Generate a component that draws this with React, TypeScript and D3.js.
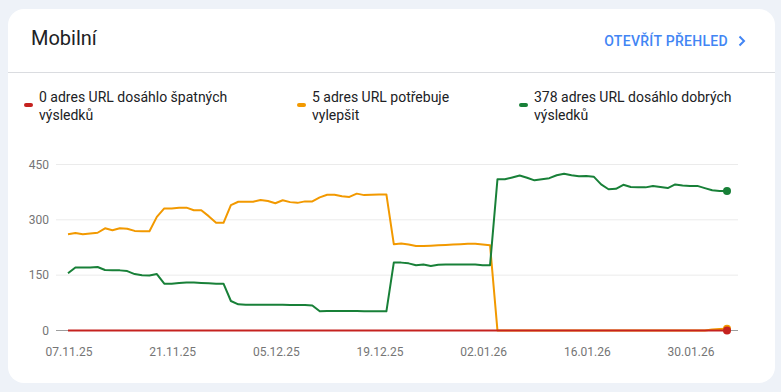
import React, { useEffect, useRef } from 'react';
import * as d3 from 'd3';

// first day of the series (07.11.25), one value per day
const startDate = new Date(2025, 10, 7);

const seriesNames = [
  ['0 adres URL dosáhlo špatných', 'výsledků'],
  ['5 adres URL potřebuje', 'vylepšit'],
  ['378 adres URL dosáhlo dobrých', 'výsledků'],
];

const poor = [
  0, 0, 0, 0, 0, 0, 0, 0, 0, 0,
  0, 0, 0, 0, 0, 0, 0, 0, 0, 0,
  0, 0, 0, 0, 0, 0, 0, 0, 0, 0,
  0, 0, 0, 0, 0, 0, 0, 0, 0, 0,
  0, 0, 0, 0, 0, 0, 0, 0, 0, 0,
  0, 0, 0, 0, 0, 0, 0, 0, 0, 0,
  0, 0, 0, 0, 0, 0, 0, 0, 0, 0,
  0, 0, 0, 0, 0, 0, 0, 0, 0, 0,
  0, 0, 0, 0, 0, 0, 0, 0, 0, 0,
];

const needsImprovement = [
  261, 264, 261, 263, 265, 277, 272, 277, 276, 270,
  269, 269, 308, 331, 331, 333, 333, 326, 326, 310,
  292, 292, 340, 349, 349, 349, 354, 351, 345, 353,
  348, 346, 350, 350, 361, 368, 368, 364, 362, 371,
  367, 368, 369, 369, 234, 236, 233, 229, 229, 230,
  231, 232, 233, 234, 235, 235, 233, 231, 0, 0,
  0, 0, 0, 0, 0, 0, 0, 0, 0, 0,
  0, 0, 0, 0, 0, 0, 0, 0, 0, 0,
  0, 0, 0, 0, 0, 0, 0, 3, 4, 5,
];

const good = [
  155, 171, 171, 171, 172, 164, 163, 163, 161, 153,
  150, 149, 153, 127, 127, 129, 130, 130, 129, 128,
  127, 127, 80, 71, 70, 70, 70, 70, 70, 70,
  69, 69, 69, 68, 52, 53, 53, 53, 53, 53,
  52, 52, 52, 52, 184, 184, 182, 177, 179, 175,
  178, 179, 179, 179, 179, 179, 177, 177, 410, 410,
  415, 420, 414, 407, 410, 413, 421, 425, 421, 418,
  419, 417, 396, 383, 384, 395, 389, 388, 388, 392,
  389, 386, 396, 393, 392, 392, 386, 380, 378, 378,
];

const yTicks = [0, 150, 300, 450];
const xTickLabels = ['07.11.25', '21.11.25', '05.12.25', '19.12.25', '02.01.26', '16.01.26', '30.01.26'];

const colors = ['#c5221f', '#f29900', '#188038'];

const W = 781;
const H = 392;
const FONT = 'Roboto, "Noto Sans", sans-serif';

export default function App() {
  const ref = useRef<SVGSVGElement | null>(null);

  useEffect(() => {
    const svg = d3.select(ref.current);
    svg.selectAll('*').remove();

    // background + card
    svg.append('rect').attr('width', W).attr('height', H).attr('fill', '#eef2f8');
    svg.append('rect')
      .attr('x', 8).attr('y', 9).attr('width', 767).attr('height', 374)
      .attr('rx', 16).attr('fill', '#fff');

    // header
    svg.append('text')
      .attr('x', 31).attr('y', 45)
      .attr('font-family', FONT).attr('font-size', 20)
      .attr('fill', '#202124')
      .text('Mobilní');
    svg.append('text')
      .attr('x', 728).attr('y', 46)
      .attr('text-anchor', 'end')
      .attr('font-family', FONT).attr('font-size', 14).attr('font-weight', 500)
      .attr('letter-spacing', 0.3)
      .attr('fill', '#4285f4')
      .text('OTEVŘÍT PŘEHLED');
    svg.append('path')
      .attr('d', 'M739.5,36.5 L744,41 L739.5,45.5')
      .attr('fill', 'none').attr('stroke', '#4285f4').attr('stroke-width', 2);
    svg.append('line')
      .attr('x1', 8).attr('x2', 775).attr('y1', 72.5).attr('y2', 72.5)
      .attr('stroke', '#dadce0');

    // legend
    const legendX = [24, 297, 519];
    const legend = svg.append('g').attr('font-family', FONT).attr('font-size', 14).attr('fill', '#202124');
    seriesNames.forEach((lines, i) => {
      legend.append('rect')
        .attr('x', legendX[i]).attr('y', 103).attr('width', 9).attr('height', 4)
        .attr('rx', 2).attr('fill', colors[i]);
      const t = legend.append('text').attr('x', legendX[i] + 15).attr('y', 101.5);
      lines.forEach((l, j) => {
        t.append('tspan').attr('x', legendX[i] + 15).attr('dy', j === 0 ? 0 : 18).text(l);
      });
    });

    // scales
    const dates = good.map((_, i) => d3.timeDay.offset(startDate, i));
    const x = d3.scaleTime()
      .domain([dates[0], dates[dates.length - 1]])
      .range([68, 727]);
    const y = d3.scaleLinear().domain([0, 450]).range([330.5, 164.5]);

    // grid + y labels
    const grid = svg.append('g');
    yTicks.forEach(v => {
      grid.append('line')
        .attr('x1', 56).attr('x2', 738)
        .attr('y1', y(v)).attr('y2', y(v))
        .attr('stroke', v === 0 ? '#9e9e9e' : '#ebebeb')
        .attr('stroke-width', 1);
      grid.append('text')
        .attr('x', 49).attr('y', y(v)).attr('dy', '0.35em')
        .attr('text-anchor', 'end')
        .attr('font-family', FONT).attr('font-size', 12).attr('fill', '#757575')
        .text(v);
    });

    // x labels
    const parse = d3.timeParse('%d.%m.%y');
    xTickLabels.forEach(l => {
      const d = parse(l) as Date;
      svg.append('text')
        .attr('x', x(d) + 1).attr('y', 356)
        .attr('text-anchor', 'middle')
        .attr('font-family', FONT).attr('font-size', 12).attr('fill', '#757575')
        .text(l);
    });

    // lines: orange, green, then red on top
    const line = d3.line<number>()
      .x((_, i) => x(dates[i]))
      .y(d => y(d));
    const order = [1, 2, 0];
    const data = [poor, needsImprovement, good];
    order.forEach(k => {
      svg.append('path')
        .datum(data[k])
        .attr('d', line)
        .attr('fill', 'none')
        .attr('stroke', colors[k])
        .attr('stroke-width', 2)
        .attr('stroke-linejoin', 'round');
    });
    order.forEach(k => {
      const last = data[k].length - 1;
      svg.append('circle')
        .attr('cx', x(dates[last])).attr('cy', y(data[k][last]))
        .attr('r', 4).attr('fill', colors[k]);
    });
  }, []);

  return (
    <svg
      ref={ref}
      width={W}
      height={H}
      style={{ position: 'absolute', left: 0, top: 0, display: 'block' }}
    />
  );
}
